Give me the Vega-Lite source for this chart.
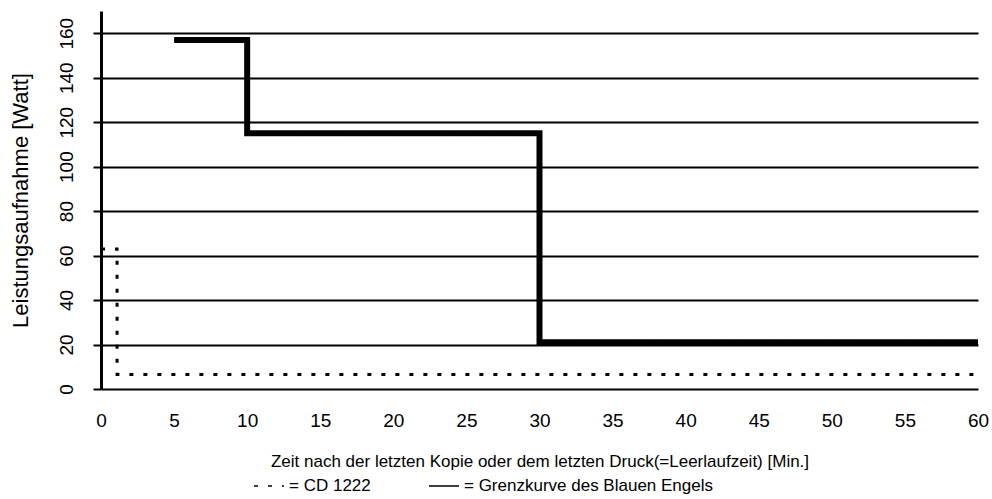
{
  "$schema": "https://vega.github.io/schema/vega-lite/v6.json",
  "width": 877,
  "height": 378,
  "autosize": {"type": "none"},
  "padding": {"left": 101, "top": 11, "right": 14, "bottom": 110},
  "background": "white",
  "config": {
    "font": "Liberation Sans",
    "view": {"stroke": null}
  },
  "datasets": {
    "grenz": [
      {"x": 5, "y": 157, "series": "Grenzkurve des Blauen Engels"},
      {"x": 10, "y": 157, "series": "Grenzkurve des Blauen Engels"},
      {"x": 10, "y": 115, "series": "Grenzkurve des Blauen Engels"},
      {"x": 30, "y": 115, "series": "Grenzkurve des Blauen Engels"},
      {"x": 30, "y": 21, "series": "Grenzkurve des Blauen Engels"},
      {"x": 60, "y": 21, "series": "Grenzkurve des Blauen Engels"}
    ],
    "cd": [
      {"x": 0, "y": 63, "series": "CD 1222"},
      {"x": 1.1, "y": 63, "series": "CD 1222"},
      {"x": 1.1, "y": 6.5, "series": "CD 1222"},
      {"x": 60, "y": 6.5, "series": "CD 1222"}
    ]
  },
  "layer": [
    {
      "data": {"name": "grenz"},
      "mark": {"type": "line", "color": "black", "strokeWidth": 6, "strokeJoin": "miter", "strokeCap": "butt"},
      "encoding": {
        "x": {
          "field": "x", "type": "quantitative",
          "scale": {"domain": [0, 60], "nice": false, "zero": true},
          "axis": {
            "values": [0,5,10,15,20,25,30,35,40,45,50,55,60],
            "grid": false, "domain": false, "ticks": false,
            "labelFontSize": 19, "labelColor": "black", "labelPadding": 22,
            "labelFlush": false,
            "title": "Zeit nach der letzten Kopie oder dem letzten Druck(=Leerlaufzeit) [Min.]",
            "titleFontSize": 17, "titleFontWeight": "normal", "titleColor": "black", "titlePadding": 23
          }
        },
        "y": {
          "field": "y", "type": "quantitative",
          "scale": {"domain": [0, 170], "nice": false},
          "axis": {
            "values": [0,20,40,60,80,100,120,140,160],
            "grid": true, "gridColor": "black", "gridWidth": 2, "gridOpacity": 1,
            "domain": true, "domainColor": "black", "domainWidth": 3,
            "ticks": true, "tickSize": 8, "tickColor": "black", "tickWidth": 2,
            "labelAngle": -90, "labelFontSize": 19, "labelColor": "black", "labelPadding": 17,
            "title": "Leistungsaufnahme [Watt]",
            "titleFontSize": 22, "titleFontWeight": "normal", "titleColor": "black", "titlePadding": 25
          }
        },
        "order": {"field": "x", "type": "quantitative"},
        "strokeDash": {
          "field": "series", "type": "nominal",
          "scale": {"domain": ["CD 1222", "Grenzkurve des Blauen Engels"], "range": [[4, 10], [1, 0]]},
          "legend": {
            "orient": "none", "legendX": 152, "legendY": 459,
            "direction": "horizontal", "title": null,
            "symbolType": "stroke", "symbolSize": 900, "symbolStrokeWidth": 1.5, "symbolStrokeColor": "#444",
            "labelExpr": "'= ' + datum.label", "labelLimit": 500,
            "labelFontSize": 17, "labelColor": "black", "columnPadding": 55, "labelOffset": 4
          }
        }
      }
    },
    {
      "data": {"name": "cd"},
      "mark": {"type": "line", "color": "black", "strokeWidth": 3, "strokeCap": "butt"},
      "encoding": {
        "x": {"field": "x", "type": "quantitative"},
        "y": {"field": "y", "type": "quantitative"},
        "order": {"field": "x", "type": "quantitative"},
        "strokeDash": {"field": "series", "type": "nominal"}
      }
    }
  ]
}
